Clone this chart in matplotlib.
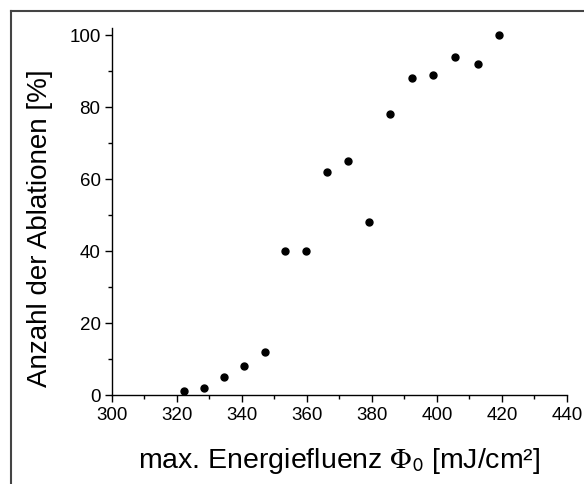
import matplotlib
matplotlib.use("Agg")
import matplotlib.pyplot as plt
from matplotlib.ticker import MultipleLocator
from matplotlib.lines import Line2D

plt.rcParams['font.family'] = ['Liberation Sans', 'DejaVu Sans']
plt.rcParams['mathtext.fontset'] = 'stix'

fluence = [322.3, 328.4, 334.6, 340.8, 347.0, 353.4, 359.7, 366.2, 372.6,
           379.0, 385.6, 392.3, 398.9, 405.6, 412.5, 419.2]
ablation_pct = [1, 2, 5, 8, 12, 40, 40, 62, 65, 48, 78, 88, 89, 94, 92, 100]
xticks = [300, 320, 340, 360, 380, 400, 420, 440]
yticks = [0, 20, 40, 60, 80, 100]

W, H = 584, 485
fig = plt.figure(figsize=(W / 100, H / 100), dpi=100)
ax = fig.add_axes([111.7 / W, 1 - 396 / H, (567 - 111.7) / W, (396 - 28.8) / H])

ax.plot(fluence, ablation_pct, 'o', color='black', markersize=5, linestyle='none')

ax.set_xlim(300, 440)
ax.set_ylim(0, 102)
ax.set_xticks(xticks)
ax.set_yticks(yticks)
ax.xaxis.set_minor_locator(MultipleLocator(10))
ax.yaxis.set_minor_locator(MultipleLocator(10))
ax.spines['top'].set_visible(False)
ax.spines['right'].set_visible(False)
for s in ('left', 'bottom'):
    ax.spines[s].set_linewidth(1.0)
ax.tick_params(which='major', direction='out', length=5, width=1.0, labelsize=13.5, pad=3)
ax.tick_params(which='minor', direction='out', length=3, width=1.0)

fig.text(339 / W, 1 - 468 / H, r'max. Energiefluenz $\Phi_{\mathsf{0}}$ [mJ/cm²]',
         ha='center', va='baseline', fontsize=20.5)
fig.text(47.3 / W, 1 - 228 / H, 'Anzahl der Ablationen [%]', rotation=90,
         rotation_mode='anchor', ha='center', va='baseline', fontsize=20)

# figure frame (top and left visible)
fig.add_artist(Line2D([11 / W, 1.0], [1 - 12 / H, 1 - 12 / H], color='#444444', lw=1.5,
                      transform=fig.transFigure))
fig.add_artist(Line2D([11 / W, 11 / W], [0, 1 - 12 / H], color='#444444', lw=1.5,
                      transform=fig.transFigure))

fig.savefig('out.png', dpi=100)
